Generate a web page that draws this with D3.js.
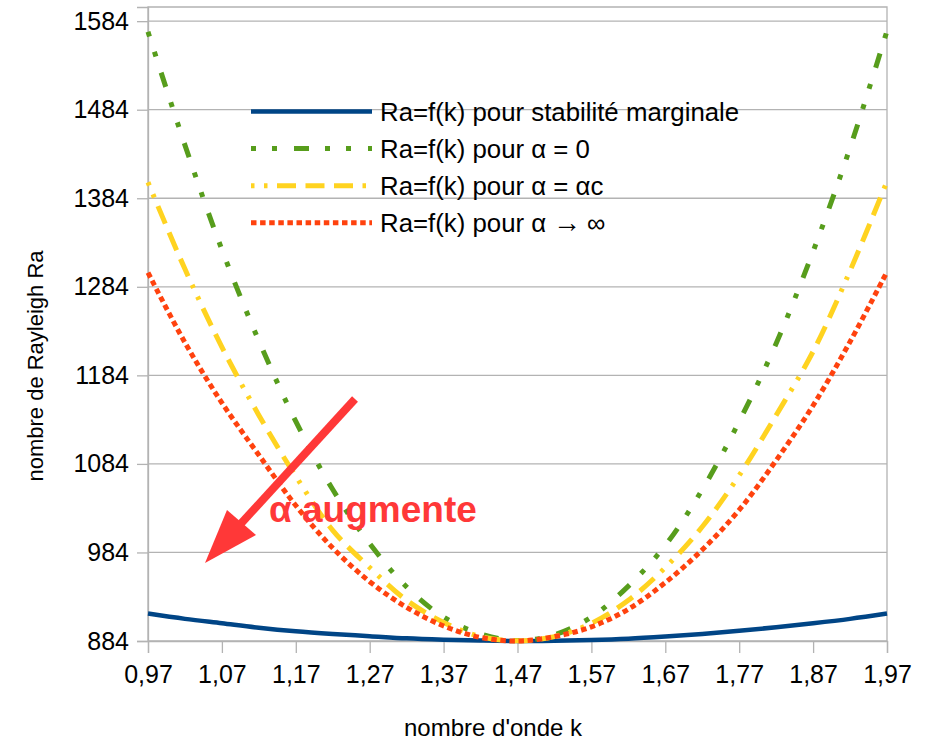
<!DOCTYPE html>
<html>
<head>
<meta charset="utf-8">
<script src="https://cdn.jsdelivr.net/npm/d3@7"></script>
<style>
  body { margin: 0; background: #fff; }
  svg { font-family: "Liberation Sans", Arial, sans-serif; }
</style>
</head>
<body>
<div id="viz-container"></div>
<script>
// nombre d'onde k
let kValues = [0.97, 1.02, 1.07, 1.12, 1.17, 1.22, 1.27, 1.32, 1.37, 1.42, 1.47,
               1.52, 1.57, 1.62, 1.67, 1.72, 1.77, 1.82, 1.87, 1.92, 1.97];
// Ra pour stabilite marginale
let raMarginal = [915, 909, 904, 899, 895, 892, 889.5, 887, 885.5, 884.5, 884,
                  884.2, 885, 886.5, 889, 892, 895.5, 899.5, 904, 909, 915];
// Ra pour alpha = 0
let raAlpha0 = [1572, 1444, 1326, 1223, 1132, 1055, 994, 945, 911, 892, 884.5,
                891, 911, 946, 992, 1055, 1132, 1220, 1324, 1441, 1573];
// Ra pour alpha = alpha c
let raAlphaC = [1402, 1304, 1216, 1139, 1070, 1009, 967, 930, 905, 889, 884.3,
                889, 904, 930, 967, 1013, 1071, 1139, 1211, 1302, 1403];
// Ra pour alpha -> infini
let raAlphaInf = [1300, 1221, 1153, 1094, 1037, 989, 951, 922, 901, 888, 884,
                  889, 900, 920, 950, 987, 1032, 1088, 1150, 1222, 1301];

let xTicks = [0.97, 1.07, 1.17, 1.27, 1.37, 1.47, 1.57, 1.67, 1.77, 1.87, 1.97];
let yTicks = [884, 984, 1084, 1184, 1284, 1384, 1484, 1584];

let seriesNames = ["Ra=f(k) pour stabilité marginale", "Ra=f(k) pour α = 0",
                   "Ra=f(k) pour α = αc", "Ra=f(k) pour α"];

let series = [
  {name: seriesNames[0], values: raMarginal, color: "#004586", width: 4.5, dash: null},
  {name: seriesNames[1], values: raAlpha0, color: "#579d1c", width: 5, dash: "5,16,5,17,15,16"},
  {name: seriesNames[2], values: raAlphaC, color: "#ffd320", width: 5, dash: "3.5,9.5,3.5,9.5,19,9.5,19,9.5,19,9.5"},
  {name: seriesNames[3], values: raAlphaInf, color: "#ff420e", width: 5, dash: "5.5,3.6"}
];

let W = 931, H = 740;
let plotLeft = 148, plotRight = 887, plotTop = 7, plotBottom = 641;
let gridColor = "#b3b3b3";

let viz = d3.select("#viz-container")
  .append("svg")
    .attr("width", W)
    .attr("height", H)
;

let x = d3.scaleLinear().domain([0.97, 1.97]).range([plotLeft, plotRight]);
let y = d3.scaleLinear().domain([884, 1600]).range([plotBottom, plotTop]);

// grid
viz.append("g").selectAll("line").data(yTicks).enter()
  .append("line")
    .attr("x1", plotLeft).attr("x2", plotRight)
    .attr("y1", d => y(d)).attr("y2", d => y(d))
    .attr("stroke", gridColor).attr("stroke-width", 1.3)
;
// frame
viz.append("path")
  .attr("d", "M" + plotLeft + "," + plotBottom + "V" + plotTop + "H" + plotRight + "V" + plotBottom)
  .attr("fill", "none").attr("stroke", gridColor).attr("stroke-width", 1.3)
;

// axes
let yAxis = viz.append("g")
  .attr("transform", "translate(" + plotLeft + ",0)")
  .call(d3.axisLeft(y).tickValues(yTicks).tickSize(11).tickPadding(8).tickFormat(d => d))
;
let xAxis = viz.append("g")
  .attr("transform", "translate(0," + plotBottom + ")")
  .call(d3.axisBottom(x).tickValues(xTicks).tickSize(12).tickPadding(12)
        .tickFormat(d => d3.format(".2f")(d).replace(".", ",")))
;
[yAxis, xAxis].forEach(function(ax){
  ax.select(".domain").attr("stroke", gridColor).attr("stroke-width", 1.3);
  ax.selectAll(".tick line").attr("stroke", gridColor).attr("stroke-width", 1.3);
  ax.selectAll(".tick text")
    .attr("font-size", 25)
    .attr("font-family", "Liberation Sans, Arial, sans-serif")
    .attr("fill", "#000");
});

// axis titles
viz.append("text")
  .text("nombre d'onde k")
    .attr("x", 493)
    .attr("y", 736)
    .attr("text-anchor", "middle")
    .attr("font-size", 24)
;
viz.append("text")
  .text("nombre de Rayleigh Ra")
    .attr("transform", "translate(43,366) rotate(-90)")
    .attr("text-anchor", "middle")
    .attr("font-size", 22)
;

// curves
let line = d3.line()
  .x((d, i) => x(kValues[i]))
  .y(d => y(d))
  .curve(d3.curveCatmullRom.alpha(0.5))
;
viz.append("g").selectAll("path").data(series).enter()
  .append("path")
    .attr("d", d => line(d.values))
    .attr("fill", "none")
    .attr("stroke", d => d.color)
    .attr("stroke-width", d => d.width)
    .attr("stroke-dasharray", d => d.dash)
;

// legend
let legend = viz.append("g").selectAll(".legendrow").data(series).enter()
  .append("g")
    .attr("class", "legendrow")
    .attr("transform", (d, i) => "translate(251," + (111.5 + i * 37.1) + ")")
;
legend.append("line")
  .attr("x1", 0).attr("x2", 121)
  .attr("y1", 0).attr("y2", 0)
  .attr("stroke", d => d.color)
  .attr("stroke-width", d => d.width)
  .attr("stroke-dasharray", d => d.dash)
;
let legendText = legend.append("text")
  .attr("x", 129)
  .attr("y", 9.5)
  .attr("font-size", 25.8)
  .text(d => d.name)
;
legendText.filter((d, i) => i == 3).append("tspan")
  .attr("x", 302)
  .attr("font-size", 28)
  .text("→")
;
legendText.filter((d, i) => i == 3).append("tspan")
  .attr("x", 336)
  .text("∞")
;

// annotation arrow
let red = "#ff3838";
viz.append("line")
  .attr("x1", 355).attr("y1", 399)
  .attr("x2", 236).attr("y2", 529)
  .attr("stroke", red).attr("stroke-width", 8)
;
viz.append("path")
  .attr("d", "M205,563 L227,510 L256,535 Z")
  .attr("fill", red)
;
viz.append("text")
  .text("α augmente")
    .attr("x", 269)
    .attr("y", 522)
    .attr("font-size", 37)
    .attr("font-weight", "bold")
    .attr("fill", red)
;
</script>
</body>
</html>
